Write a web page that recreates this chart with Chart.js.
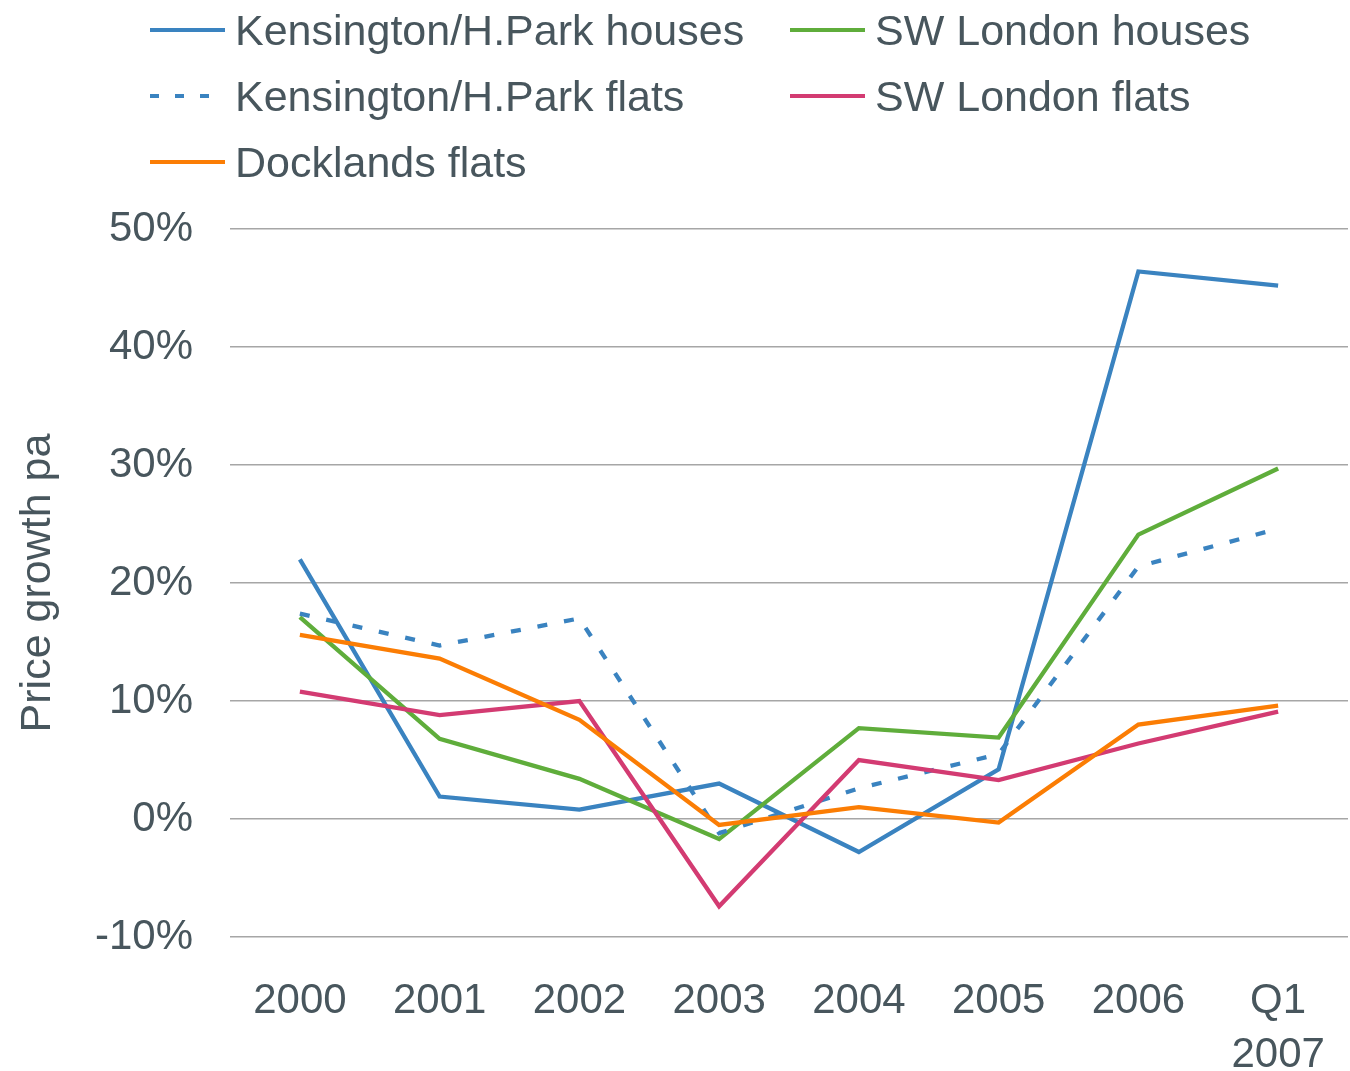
<!DOCTYPE html>
<html lang="en">
<head>
    <meta charset="UTF-8">
    <title>Price growth pa</title>
    <style>
        body {
    margin: 0;
    background: #fff;
    font-family: 'Liberation Sans', Arial, sans-serif;
}

.wrap {
    position: relative;
    width: 1350px;
    height: 1071px;
}

/* Legend, two columns */
.legend {
    position: absolute;
    left: 150px;
    top: 0;
    display: grid;
    grid-template-columns: 640px 500px;
    grid-auto-rows: 66px;
    font-size: 43px;
    color: #48565d;
}

.legend .item {
    display: flex;
    align-items: center;
    height: 60px;
    white-space: nowrap;
}

.legend .swatch {
    width: 75px;
    height: 0;
    margin-right: 10px;
    border-top: 4px solid;
}
    </style>
    <script src="https://cdn.jsdelivr.net/npm/chart.js"></script>
</head>
<body>

    <div class="wrap">
        <div class="legend" id="legend"></div>
        <canvas id="growthChart" width="1350" height="1071"></canvas>
    </div>

    <script>
// data
const years = ['2000', '2001', '2002', '2003', '2004', '2005', '2006', ['Q1', '2007']];
const kensHouses = [22.0, 1.9, 0.8, 3.0, -2.8, 4.2, 46.4, 45.2];
const swHouses = [17.1, 6.8, 3.4, -1.7, 7.7, 6.9, 24.1, 29.7];
const kensFlats = [17.4, 14.7, 17.0, -1.2, 2.6, 5.5, 21.4, 24.6];
const swFlats = [10.8, 8.8, 10.0, -7.4, 5.0, 3.3, 6.4, 9.1];
const docklandsFlats = [15.6, 13.6, 8.4, -0.5, 1.0, -0.3, 8.0, 9.6];
const yTicks = [-10, 0, 10, 20, 30, 40, 50];

const textColor = '#48565d';

const series = [
    { label: 'Kensington/H.Park houses', data: kensHouses, color: '#3a83c0', dash: [] },
    { label: 'SW London houses', data: swHouses, color: '#5fad3b', dash: [] },
    { label: 'Kensington/H.Park flats', data: kensFlats, color: '#3a83c0', dash: [10, 17] },
    { label: 'SW London flats', data: swFlats, color: '#d33b72', dash: [] },
    { label: 'Docklands flats', data: docklandsFlats, color: '#fb7d04', dash: [] }
];

// html legend
const legendEl = document.getElementById('legend');
series.forEach(function (s) {
    const item = document.createElement('div');
    item.className = 'item';
    const sw = document.createElement('span');
    sw.className = 'swatch';
    sw.style.borderTopColor = s.color;
    if (s.dash.length) {
        sw.style.borderTop = 'none';
        sw.style.height = '4px';
        sw.style.background = 'repeating-linear-gradient(90deg, ' + s.color + ' 0 9px, transparent 9px 25px)';
    }
    const txt = document.createElement('span');
    txt.textContent = s.label;
    item.appendChild(sw);
    item.appendChild(txt);
    legendEl.appendChild(item);
});

const ctx = document.getElementById('growthChart').getContext('2d');

new Chart(ctx, {
    type: 'line',
    data: {
        labels: years,
        datasets: series.map(function (s, i) {
            return {
                label: s.label,
                data: s.data,
                borderColor: s.color,
                backgroundColor: s.color,
                borderWidth: 4.3,
                borderDash: s.dash,
                pointRadius: 0,
                tension: 0,
                fill: false,
                order: series.length - i
            };
        })
    },
    options: {
        responsive: false,
        animation: false,
        layout: {
            padding: { top: 229, right: 2, left: 0, bottom: 0 }
        },
        plugins: {
            legend: { display: false },
            tooltip: { enabled: false }
        },
        scales: {
            x: {
                offset: true,
                grid: { display: false, drawTicks: false },
                border: { display: false },
                ticks: {
                    color: textColor,
                    padding: 38,
                    maxRotation: 0,
                    autoSkip: false,
                    font: { family: 'Liberation Sans', size: 42, lineHeight: 1.27 }
                },
                afterFit: function (scale) {
                    scale.height = 134;
                    scale.paddingLeft = 0;
                    scale.paddingRight = 0;
                }
            },
            y: {
                min: -10,
                max: 50,
                afterBuildTicks: function (scale) {
                    scale.ticks = yTicks.map(function (v) { return { value: v }; });
                },
                grid: { color: '#a6a6a6', lineWidth: 1.5, drawTicks: false },
                border: { display: false },
                ticks: {
                    color: textColor,
                    padding: 37,
                    font: { family: 'Liberation Sans', size: 42 },
                    callback: function (v) { return v + '%'; }
                },
                title: {
                    display: true,
                    text: 'Price growth pa',
                    color: textColor,
                    padding: { top: 12, bottom: 0 },
                    font: { family: 'Liberation Sans', size: 43 }
                },
                afterFit: function (scale) { scale.width = 230; }
            }
        }
    }
});
    </script>
</body>
</html>
